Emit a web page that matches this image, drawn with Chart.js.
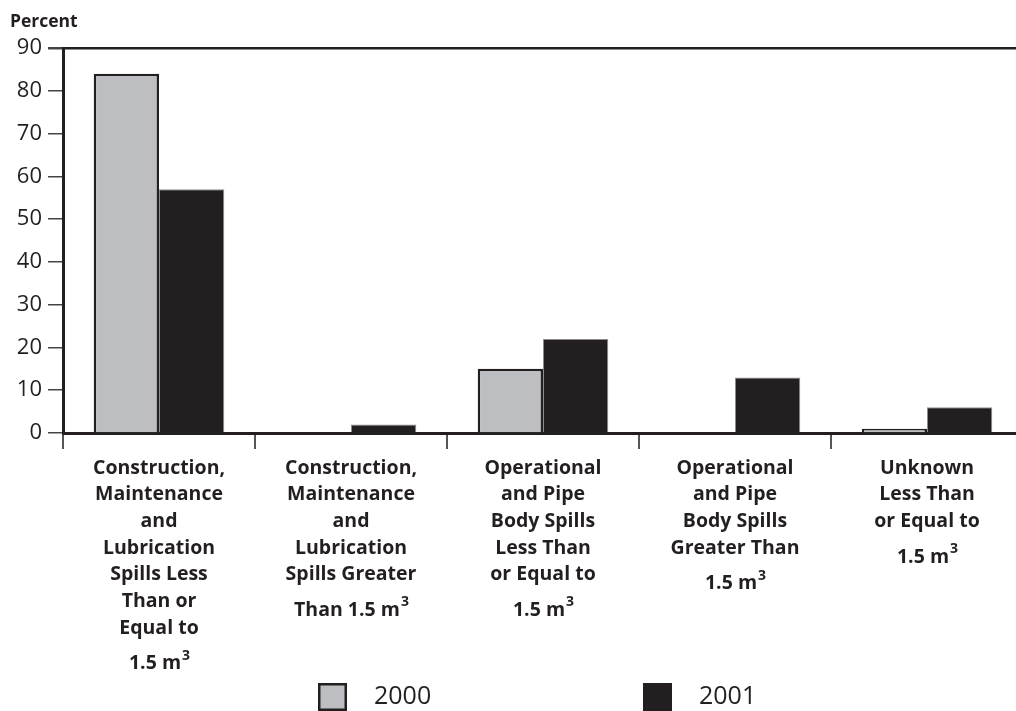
<!DOCTYPE html>
<html lang="en">
<head>
	<meta charset="UTF-8" />
	<title>Spills by type</title>
	<script src="https://cdn.jsdelivr.net/npm/chart.js@4.4.1/dist/chart.umd.min.js"></script>
	<style>
		html, body { margin: 0; padding: 0; background: #fff; overflow: hidden; }
		#wrap { position: relative; width: 1023px; height: 711px; }
	</style>
</head>
<body>
	<div id="wrap">
		<canvas id="myChart"></canvas>
	</div>
<script>
	// category labels, one array of lines per category
	const categories = [
		["Construction,", "Maintenance", "and", "Lubrication", "Spills Less", "Than or", "Equal to", "1.5 m³"],
		["Construction,", "Maintenance", "and", "Lubrication", "Spills Greater", "Than 1.5 m³"],
		["Operational", "and Pipe", "Body Spills", "Less Than", "or Equal to", "1.5 m³"],
		["Operational", "and Pipe", "Body Spills", "Greater Than", "1.5 m³"],
		["Unknown", "Less Than", "or Equal to", "1.5 m³"]
	];
	const series_names = ["2000", "2001"];
	const values_2000 = [84, 0, 15, 0, 1];
	const values_2001 = [57, 2, 22, 13, 6];
	const y_ticks = [0, 10, 20, 30, 40, 50, 60, 70, 80, 90];

	const FONT = "'Open Sans', sans-serif";
	const INK = '#231f20';
	const LBL = "bold 19.5px " + FONT;
	const SUP = "bold 14px " + FONT;

	// draws the multi-line category labels, the "Percent" title and the legend
	const extras = {
		id: 'extras',
		afterDraw(chart) {
			const c = chart.ctx;
			const xs = chart.scales.x;
			c.save();
			c.fillStyle = INK;
			c.textAlign = 'left';
			c.textBaseline = 'middle';
			c.font = "bold 17.5px " + FONT;
			c.fillText("Percent", 10, 22);

			categories.forEach((lines, i) => {
				const cx = xs.getPixelForValue(i);
				let y = 468;
				lines.forEach((line) => {
					if (line.endsWith("³")) {
						y += 9;
						const main = line.slice(0, -1);
						c.font = LBL;
						const w1 = c.measureText(main).width;
						c.font = SUP;
						const w2 = c.measureText("3").width;
						const x0 = cx - (w1 + w2) / 2;
						c.textAlign = 'left';
						c.font = LBL;
						c.fillText(main, x0, y);
						c.font = SUP;
						c.fillText("3", x0 + w1 + 1, y - 8);
					} else {
						c.textAlign = 'center';
						c.font = LBL;
						c.fillText(line, cx, y);
					}
					y += 26.7;
				});
			});

			// legend
			const items = [
				{ x: 318, ds: chart.data.datasets[0] },
				{ x: 643, ds: chart.data.datasets[1] }
			];
			c.font = "25px " + FONT;
			c.textAlign = 'left';
			items.forEach((it) => {
				c.fillStyle = it.ds.backgroundColor;
				c.fillRect(it.x, 683, 29, 28);
				c.strokeStyle = INK;
				c.lineWidth = 2.5;
				c.strokeRect(it.x + 1.25, 684.25, 26.5, 25.5);
				c.fillStyle = INK;
				c.fillText(it.ds.label, it.x + 56, 697);
			});
			c.restore();
		}
	};

	const ctx = document.getElementById('myChart').getContext('2d');
	const chart = new Chart(ctx, {
		type: 'bar',
		data: {
			labels: categories,
			datasets: [{
				label: series_names[0],
				data: values_2000,
				backgroundColor: '#bdbec2',
				borderColor: INK,
				borderWidth: 2.5,
				borderSkipped: 'bottom'
			}, {
				label: series_names[1],
				data: values_2001,
				backgroundColor: INK,
				borderColor: '#8c8c8c',
				borderWidth: 1,
				borderSkipped: 'bottom'
			}]
		},
		options: {
			responsive: true,
			maintainAspectRatio: false,
			animation: false,
			layout: { padding: { top: 48, left: 0, right: 0, bottom: 0 } },
			plugins: {
				legend: { display: false },
				tooltip: { enabled: false }
			},
			datasets: {
				bar: { categoryPercentage: 0.68, barPercentage: 1 }
			},
			scales: {
				x: {
					afterFit: (s) => { s.height = 278; },
					ticks: { display: false },
					grid: {
						offset: true,
						drawOnChartArea: false,
						drawTicks: true,
						tickLength: 16,
						tickColor: '#555',
						lineWidth: 2
					},
					border: { color: INK, width: 3 }
				},
				y: {
					min: 0,
					max: 90,
					afterFit: (s) => { s.width = 63; },
					afterBuildTicks: (s) => { s.ticks = y_ticks.map(v => ({ value: v })); },
					ticks: {
						color: INK,
						padding: 6,
						font: { family: "'Open Sans', sans-serif", size: 22 }
					},
					grid: {
						drawOnChartArea: true,
						drawTicks: true,
						tickLength: 15,
						tickColor: '#444',
						color: (g) => g.tick && g.tick.value === 90 ? INK : 'rgba(0,0,0,0)',
						lineWidth: (g) => g.tick && g.tick.value === 90 ? 2.5 : 1.5
					},
					border: { color: INK, width: 3 }
				}
			}
		},
		plugins: [extras]
	});
</script>
</body>
</html>
